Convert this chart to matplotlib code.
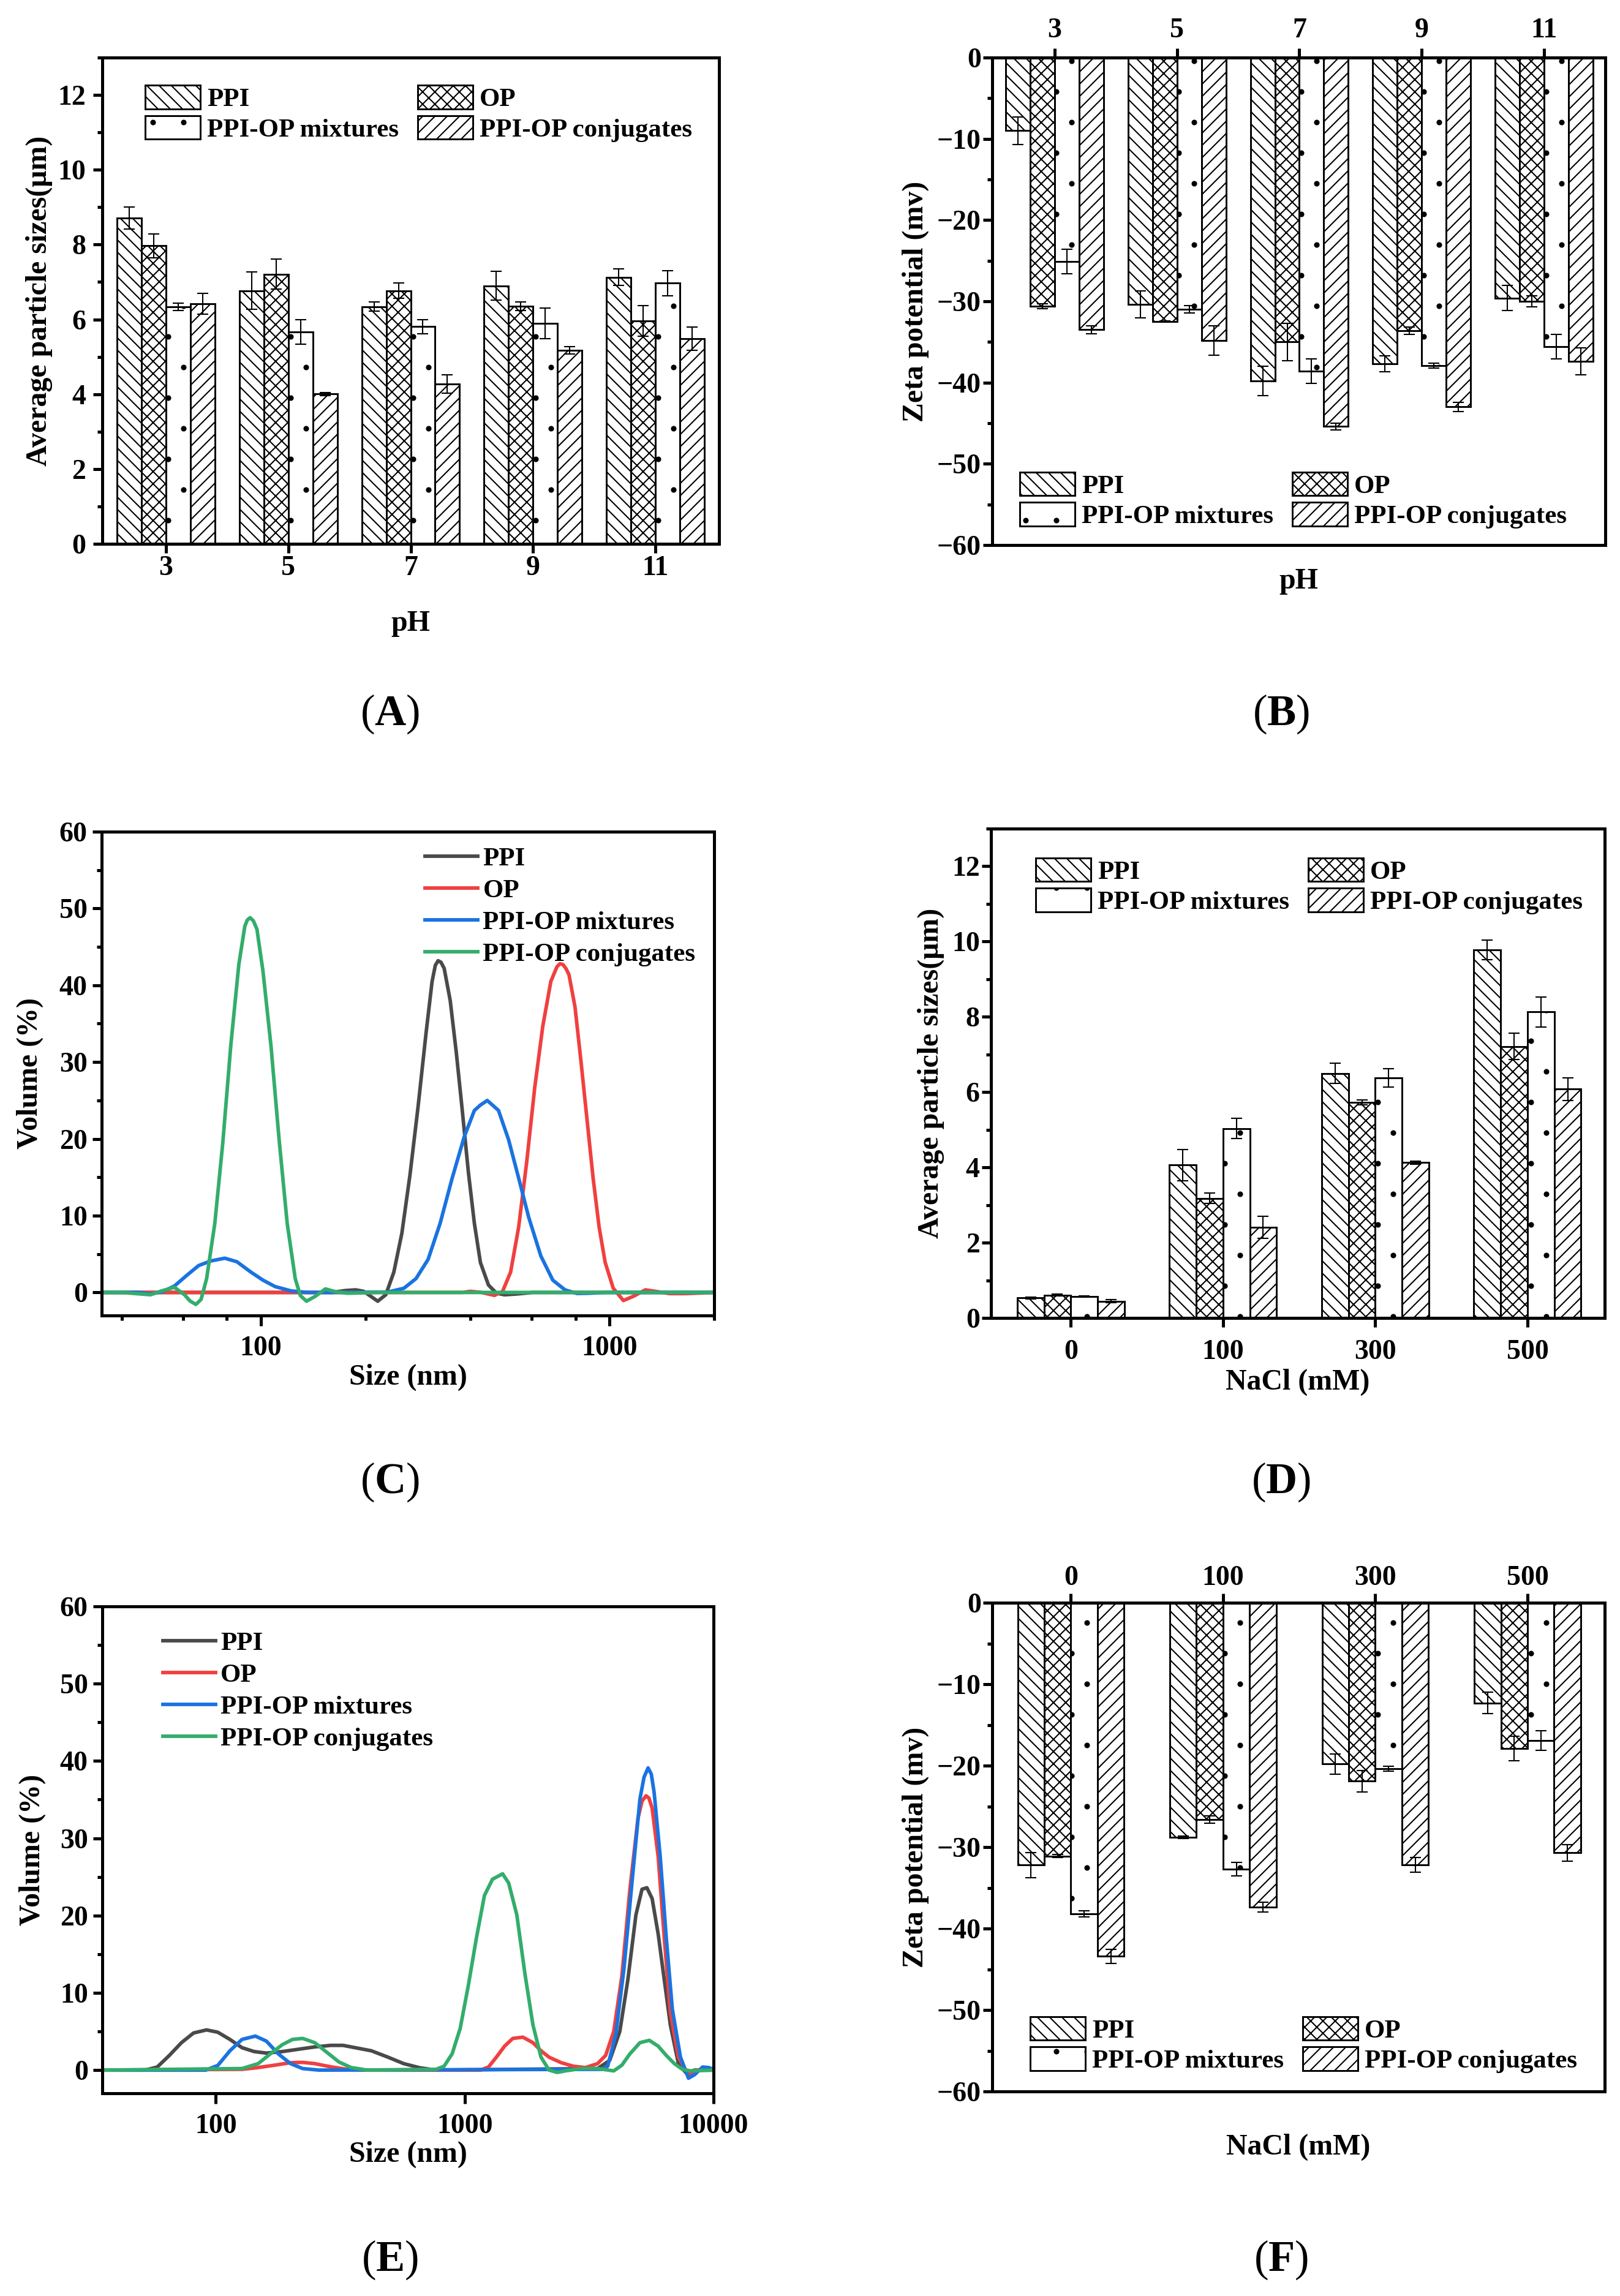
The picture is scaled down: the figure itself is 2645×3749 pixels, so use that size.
import numpy as np
import matplotlib
matplotlib.use('Agg')
import matplotlib.pyplot as plt
import matplotlib.hatch as mhatch
from matplotlib.ticker import MultipleLocator, FixedLocator, NullFormatter, NullLocator

plt.rcParams['font.family'] = ['Liberation Serif', 'DejaVu Serif']
plt.rcParams['font.weight'] = 'bold'
plt.rcParams['mathtext.fontset'] = 'custom'
plt.rcParams['mathtext.rm'] = 'Liberation Serif'
plt.rcParams['mathtext.bf'] = 'Liberation Serif:bold'
plt.rcParams['hatch.linewidth'] = 0.5
plt.rcParams['axes.linewidth'] = 1.2
mhatch.SmallFilledCircles.size = 0.07

# ---------------- data ----------------
series = ['PPI', 'OP', 'PPI-OP mixtures', 'PPI-OP conjugates']
hatches = ['\\\\\\\\\\', 'xxxxx', '.', '/////']
line_colors = ['#4a4a4a', '#f04040', '#1a73e0', '#33ad6b']

ph_labels = ['3', '5', '7', '9', '11']
nacl_labels = ['0', '100', '300', '500']

# (A) particle size vs pH (um)
A_ppi = [8.71, 6.77, 6.34, 6.90, 7.13]
A_op = [7.97, 7.21, 6.77, 6.35, 5.96]
A_mix = [6.34, 5.67, 5.81, 5.90, 6.97]
A_conj = [6.42, 4.01, 4.27, 5.18, 5.49]
A_ppi_err = [0.29, 0.50, 0.12, 0.38, 0.22]
A_op_err = [0.32, 0.40, 0.20, 0.12, 0.41]
A_mix_err = [0.10, 0.33, 0.19, 0.41, 0.34]
A_conj_err = [0.28, 0.04, 0.25, 0.10, 0.31]

# (B) zeta potential vs pH (mV)
B_ppi = [-9.0, -30.35, -39.8, -37.7, -29.6]
B_op = [-30.6, -32.5, -35.0, -33.6, -30.0]
B_mix = [-25.1, -31.0, -38.6, -37.9, -35.6]
B_conj = [-33.5, -34.8, -45.4, -43.0, -37.4]
B_ppi_err = [1.7, 1.65, 1.8, 1.0, 1.55]
B_op_err = [0.3, 0.1, 2.3, 0.45, 0.7]
B_mix_err = [1.5, 0.45, 1.5, 0.3, 1.5]
B_conj_err = [0.5, 1.8, 0.4, 0.6, 1.65]

# (D) particle size vs NaCl (um)
D_ppi = [0.53, 4.06, 6.50, 9.78]
D_op = [0.61, 3.18, 5.73, 7.21]
D_mix = [0.57, 5.03, 6.38, 8.13]
D_conj = [0.44, 2.41, 4.13, 6.08]
D_ppi_err = [0.02, 0.42, 0.27, 0.26]
D_op_err = [0.03, 0.14, 0.06, 0.35]
D_mix_err = [0.02, 0.27, 0.25, 0.40]
D_conj_err = [0.04, 0.29, 0.04, 0.30]

# (F) zeta potential vs NaCl (mV)
F_ppi = [-32.2, -28.8, -19.8, -12.3]
F_op = [-31.1, -26.6, -21.9, -17.9]
F_mix = [-38.2, -32.7, -20.4, -16.9]
F_conj = [-43.4, -37.4, -32.2, -30.7]
F_ppi_err = [1.55, 0.15, 1.25, 1.3]
F_op_err = [0.2, 0.45, 1.3, 1.5]
F_mix_err = [0.35, 0.85, 0.3, 1.2]
F_conj_err = [0.85, 0.6, 0.9, 1.0]

# (C) size distribution (nm, volume %)
C_ppi_x = [35, 100, 160, 175, 187.3, 197.5, 216.8, 228.6, 241.1, 254.2, 268.2, 282.8, 298.3, 310.4,
           317.1, 323.0, 329.1, 336.2, 349.9, 364.1, 378.9, 394.4, 410.4, 427.1, 450.4, 475.0, 501.0,
           542.6, 603.4, 800, 2000]
C_ppi_y = [0, 0, 0, 0.25, 0.34, 0.15, -1.14, -0.3, 2.65, 7.7, 15.3, 24.1, 33.8, 40.5,
           42.6, 43.2, 43.0, 42.2, 38.0, 31.3, 23.7, 15.7, 9.0, 3.9, 0.97, -0.1, -0.3,
           -0.2, 0, 0, 0]
C_op_x = [35, 380, 399.6, 430, 468.8, 494.3, 521.4, 549.8, 579.9, 611.5, 645.0, 680.1, 707.8, 722,
          736.6, 751, 766.5, 797.7, 830.3, 864.2, 899.1, 935.6, 973.8, 1027, 1098, 1173, 1270, 1376,
          1490, 1657, 2000]
C_op_y = [0, 0, 0.15, 0, -0.38, 0.13, 2.65, 8.5, 17.0, 26.7, 34.7, 40.5, 42.4, 42.8,
          42.7, 42.2, 41.4, 37.2, 30.0, 22.4, 14.9, 8.5, 3.9, 0.55, -1.05, -0.5, 0.34, 0.1,
          -0.15, -0.15, 0]
C_mix_x = [35, 44.6, 48.3, 52.3, 56.6, 61.3, 66.4, 71.9, 78.9, 85.5, 93.8, 101.6, 110.1, 122.4,
           136.1, 168.4, 231.7, 257.7, 279.1, 302.3, 327.3, 354.5, 384.0, 410.4, 427.1, 446.8,
           462.6, 481.3, 514.4, 549.8, 587.5, 636.5, 689.0, 746.5, 808.4, 875.6, 973.8, 2000]
C_mix_y = [0, 0, -0.2, 0.1, 0.84, 2.2, 3.5, 4.1, 4.46, 4.0, 2.65, 1.6, 0.76, 0.2,
           0, 0, 0.05, 0.55, 1.8, 4.3, 9.0, 14.9, 20.3, 23.7, 24.4, 25.0,
           24.4, 23.7, 19.9, 14.9, 9.8, 4.76, 1.6, 0.34, -0.13, -0.1, 0, 0]
C_conj_x = [35, 40.1, 48.3, 52, 56.6, 60.5, 62.7, 65.2, 67.5, 70.0, 73.9, 77.9, 82.1, 86.6, 90.1,
            91.6, 93.3, 95.3, 97.6, 101.6, 107.1, 113.0, 119.2, 125.7, 130, 135.4, 143.5, 153.4,
            164.0, 177.6, 219.7, 2000]
C_conj_y = [0, 0, -0.3, 0.2, 0.67, -0.3, -1.1, -1.56, -0.9, 1.8, 9.0, 19.5, 32.1, 42.7, 47.7,
            48.5, 48.8, 48.4, 47.3, 41.8, 32.1, 19.9, 9.0, 1.8, -0.4, -1.14, -0.5, 0.46,
            0.1, -0.1, 0, 0]

# (E) size distribution in NaCl (nm, volume %)
E_ppi_x = [35, 52.0, 58.2, 65.1, 72.8, 81.4, 91.8, 101.9, 114.0, 127.5, 142.6, 159.6, 185.3, 215.2,
           249.8, 290.1, 324.6, 363.2, 421.7, 489.7, 568.8, 660.3, 766.7, 3420, 3826, 4202, 4527,
           4878, 5160, 5397, 5666, 5993, 6339, 6705, 7225, 7784, 8388, 10000]
E_ppi_y = [0, 0, 0.4, 1.9, 3.55, 4.8, 5.2, 4.9, 3.97, 2.9, 2.4, 2.2, 2.4, 2.7,
           3.0, 3.2, 3.2, 2.9, 2.5, 1.7, 0.84, 0.3, 0, 0.2, 1.25, 5.0, 11.7,
           20.1, 23.4, 23.6, 22.2, 17.6, 11.7, 5.85, 0.84, -0.42, 0, 0]
E_op_x = [35, 127.5, 148.1, 171.9, 199.7, 223.4, 249.8, 290.1, 337.0, 391.3, 1157, 1247, 1343, 1447,
          1561, 1713, 1881, 2027, 2184, 2443, 2734, 3058, 3420, 3686, 3972, 4280, 4613, 4971, 5160,
          5357, 5500, 5666, 5993, 6339, 6705, 7225, 7932, 8547, 10000]
E_op_y = [0, 0.1, 0.33, 0.63, 0.96, 1.0, 0.84, 0.42, 0.1, 0, 0, 0.4, 1.7, 3.1,
          4.1, 4.26, 3.55, 2.5, 1.67, 0.96, 0.5, 0.33, 0.84, 1.9, 5.0, 12.1, 23.4, 32.6, 34.8,
          35.5, 35.2, 33.9, 27.6, 17.1, 7.5, 1.67, -0.63, 0, 0]
E_mix_x = [35, 91.1, 101.9, 114.0, 127.5, 144.2, 159.6, 178.4, 199.7, 223.4, 259.4, 3551, 3755, 4047,
           4362, 4700, 5063, 5257, 5458, 5623, 5773, 6107, 6459, 6830, 7361, 7932, 8388, 9041, 9561,
           10000]
E_mix_y = [0, 0, 0.6, 2.5, 3.97, 4.4, 3.76, 2.1, 0.84, 0.2, 0, 0.1, 0.5, 4.6,
           13.0, 24.2, 35.1, 37.9, 39.1, 38.3, 35.9, 27.6, 17.1, 7.9, 1.7, -1.05, -0.6, 0.4, 0.33,
           0.1]
E_conj_x = [35, 127.5, 148.1, 165.6, 185.3, 203.4, 223.4, 249.8, 279.5, 312.7, 349.9, 406.2, 766.7,
            826.5, 890.6, 959.7, 1034, 1115, 1201, 1294, 1421, 1503, 1620, 1746, 1881, 2027, 2184,
            2354, 2536, 2946, 3420, 3972, 4280, 4613, 5063, 5520, 5993, 6459, 6958, 7499, 8079, 10000]
E_conj_y = [0, 0.2, 0.84, 2.1, 3.3, 3.97, 4.1, 3.55, 2.3, 1.05, 0.33, 0, 0.1,
            0.5, 2.1, 5.4, 10.9, 17.1, 22.6, 24.7, 25.4, 24.2, 20.1, 12.5, 5.85, 1.67, 0,
            -0.3, -0.1, 0.2, 0.2, -0.1, 0.63, 2.1, 3.55, 3.85, 3.1, 1.9, 0.84, 0.1, -0.1, 0]

# ---------------- figure ----------------
W, H = 2645, 3749
DPI = 300
fig = plt.figure(figsize=(W / DPI, H / DPI), dpi=DPI)
fig.patch.set_facecolor('white')


def axes_px(l, r, t, b):
    return fig.add_axes([l / W, 1 - b / H, (r - l) / W, (b - t) / H])


TICK_FS = 11
LAB_FS = 11.5
LEG_FS = 10.3
ORDER = [0, 2, 1, 3]   # row-wise layout of a two-column legend


def style_common(ax):
    for s in ax.spines.values():
        s.set_linewidth(1.2)
    ax.tick_params(which='major', direction='out', length=3.6, width=1.2, labelsize=TICK_FS)
    ax.tick_params(which='minor', direction='out', length=1.9, width=1.2)
    ax.tick_params(axis='y', which='both', left=True, right=False)


def bar_panel(ax, labels, vals, errs, width, ylim, ymaj, ymin, top=False,
              leg_anchor=(0.07, 0.94), colsp=0.7, xlim=None):
    n = len(labels)
    x = np.arange(n)
    conts = []
    for i in range(4):
        pos = x + (i - 1.5) * width
        c = ax.bar(pos, vals[i], width=width, facecolor='white', edgecolor='black',
                   linewidth=0.7, hatch=hatches[i], zorder=2)
        ax.errorbar(pos, vals[i], yerr=errs[i], fmt='none', ecolor='black',
                    elinewidth=0.5, capsize=2.2, capthick=0.5, zorder=3)
        conts.append(c)
    ax.set_xticks(x)
    ax.set_xticklabels(labels)
    ax.set_ylim(*ylim)
    ax.set_xlim(*xlim)
    ax.yaxis.set_major_locator(MultipleLocator(ymaj))
    ax.yaxis.set_minor_locator(MultipleLocator(ymin))
    style_common(ax)
    if top:
        ax.tick_params(axis='x', which='both', top=True, bottom=False,
                       labeltop=True, labelbottom=False)
    else:
        ax.tick_params(axis='x', which='both', top=False, bottom=True)
    ax.legend([conts[k] for k in ORDER], [series[k] for k in ORDER], ncol=2, loc='upper left',
              bbox_to_anchor=leg_anchor, frameon=False, borderpad=0, borderaxespad=0,
              handlelength=2.1, handleheight=1.0, handletextpad=0.25, labelspacing=0.15,
              columnspacing=colsp, fontsize=LEG_FS)
    return ax


def dist_panel(ax, xs, ys, xlim, minor, leg_anchor):
    for i in range(4):
        ax.plot(xs[i], ys[i], color=line_colors[i], lw=1.4, label=series[i],
                solid_joinstyle='round', zorder=2)
    ax.set_xscale('log')
    ax.set_xlim(*xlim)
    ax.set_ylim(-3, 60)
    ax.yaxis.set_major_locator(MultipleLocator(10))
    ax.yaxis.set_minor_locator(MultipleLocator(5))
    majors = [m for m in [100, 1000, 10000] if xlim[0] <= m <= xlim[1]]
    ax.xaxis.set_major_locator(FixedLocator(majors))
    ax.set_xticklabels([str(m) for m in majors])
    if minor:
        ax.xaxis.set_minor_locator(FixedLocator(minor))
    else:
        ax.xaxis.set_minor_locator(NullLocator())
    ax.xaxis.set_minor_formatter(NullFormatter())
    style_common(ax)
    ax.tick_params(axis='x', which='both', top=False, bottom=True)
    ax.tick_params(axis='x', which='major', length=4.0, pad=4)
    ax.legend(loc='upper left', bbox_to_anchor=leg_anchor, frameon=False, borderpad=0,
              borderaxespad=0, handlelength=2.0, handletextpad=0.2, labelspacing=0.3,
              fontsize=LEG_FS)


# ---- (A)
axA = axes_px(167, 1174, 94, 888)
bar_panel(axA, ph_labels, [A_ppi, A_op, A_mix, A_conj],
          [A_ppi_err, A_op_err, A_mix_err, A_conj_err], 0.2, (0, 13), 2, 1,
          leg_anchor=(0.0695, 0.943), colsp=0.72, xlim=(-0.52, 4.52))
axA.tick_params(axis='x', pad=1)
axA.tick_params(axis='y', pad=2.8)
axA.text(-0.102, 0.5, 'Average particle sizes(\u03bcm)', transform=axA.transAxes, rotation=90,
         ha='center', va='center', fontsize=LAB_FS)
axA.text(0.5, -0.164, 'pH', transform=axA.transAxes, ha='center', va='center', fontsize=LAB_FS)

# ---- (B)
axB = axes_px(1620, 2621, 94, 890)
bar_panel(axB, ph_labels, [B_ppi, B_op, B_mix, B_conj],
          [B_ppi_err, B_op_err, B_mix_err, B_conj_err], 0.2, (-60, 0), 10, 5, top=True,
          leg_anchor=(0.045, 0.1495), colsp=0.72, xlim=(-0.51, 4.50))
axB.tick_params(axis='x', pad=2)
axB.tick_params(axis='y', pad=0.8)
axB.text(-0.125, 0.5, 'Zeta potential (mv)', transform=axB.transAxes, rotation=90,
         ha='center', va='center', fontsize=LAB_FS)
axB.text(0.5, -0.074, 'pH', transform=axB.transAxes, ha='center', va='center', fontsize=LAB_FS)

# ---- (C)
axC = axes_px(166, 1166, 1358, 2148)
dist_panel(axC, [C_ppi_x, C_op_x, C_mix_x, C_conj_x], [C_ppi_y, C_op_y, C_mix_y, C_conj_y],
           (35, 2000), [40, 60, 80, 200, 400, 600, 800, 2000], (0.528, 0.968))
axC.tick_params(axis='y', pad=2)
axC.text(-0.117, 0.5, 'Volume (%)', transform=axC.transAxes, rotation=90,
         ha='center', va='center', fontsize=LAB_FS)
axC.text(0.5, -0.128, 'Size (nm)', transform=axC.transAxes, ha='center', va='center',
         fontsize=LAB_FS)

# ---- (D)
axD = axes_px(1618, 2620, 1353, 2152)
bar_panel(axD, nacl_labels, [D_ppi, D_op, D_mix, D_conj],
          [D_ppi_err, D_op_err, D_mix_err, D_conj_err], 0.176, (0, 13), 2, 1,
          leg_anchor=(0.073, 0.94), colsp=0.72, xlim=(-0.524, 3.507))
axD.tick_params(axis='x', pad=4.8)
axD.tick_params(axis='y', pad=0.8)
axD.text(-0.098, 0.5, 'Average particle sizes(\u03bcm)', transform=axD.transAxes, rotation=90,
         ha='center', va='center', fontsize=LAB_FS)
axD.text(0.5, -0.131, 'NaCl (mM)', transform=axD.transAxes, ha='center', va='center',
         fontsize=LAB_FS)

# ---- (E)
axE = axes_px(167, 1165, 2623, 3418)
dist_panel(axE, [E_ppi_x, E_op_x, E_mix_x, E_conj_x], [E_ppi_y, E_op_y, E_mix_y, E_conj_y],
           (35, 10000), None, (0.099, 0.948))
axE.tick_params(axis='y', pad=2)
axE.text(-0.114, 0.5, 'Volume (%)', transform=axE.transAxes, rotation=90,
         ha='center', va='center', fontsize=LAB_FS)
axE.text(0.5, -0.126, 'Size (nm)', transform=axE.transAxes, ha='center', va='center',
         fontsize=LAB_FS)

# ---- (F)
axF = axes_px(1620, 2620, 2617, 3415)
bar_panel(axF, nacl_labels, [F_ppi, F_op, F_mix, F_conj],
          [F_ppi_err, F_op_err, F_mix_err, F_conj_err], 0.175, (-60, 0), 10, 5, top=True,
          leg_anchor=(0.062, 0.153), colsp=0.72, xlim=(-0.517, 3.507))
axF.tick_params(axis='x', pad=1)
axF.tick_params(axis='y', pad=0.8)
axF.text(-0.125, 0.5, 'Zeta potential (mv)', transform=axF.transAxes, rotation=90,
         ha='center', va='center', fontsize=LAB_FS)
axF.text(0.5, -0.114, 'NaCl (mM)', transform=axF.transAxes, ha='center', va='center',
         fontsize=LAB_FS)

# ---- panel letters
for lab, (px, py) in zip('ABCDEF', [(637, 1166), (2092, 1166), (637, 2420), (2092, 2420),
                                     (637, 3690), (2092, 3690)]):
    fig.text(px / W, 1 - py / H, r'($\mathbf{%s}$)' % lab, ha='center', va='center',
             fontsize=17, fontweight='normal')

fig.savefig('out.png', dpi=DPI, facecolor='white')
